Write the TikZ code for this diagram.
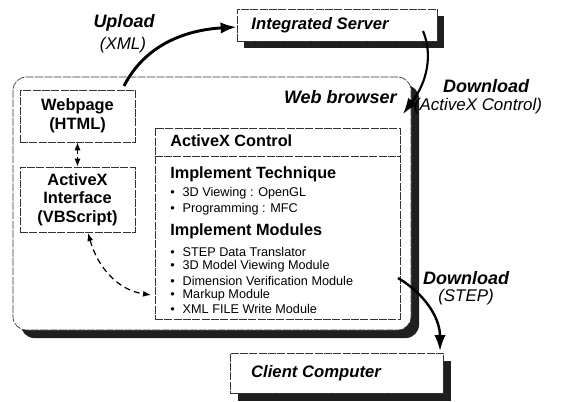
\documentclass[tikz,border=0pt]{standalone}
\usepackage{fontspec}
\setmainfont{Liberation Sans}
\usetikzlibrary{arrows.meta,shadows}

\tikzset{
  boxline/.style={draw=black!80, line width=0.5pt, dash pattern=on 6pt off 1pt},
  frame/.style={boxline, fill=white, inner sep=0pt},
  shadowed/.style={drop shadow={shadow xshift=#1, shadow yshift=-#1, opacity=1, fill=black!88}},
  bigital/.style={font=\fontsize{13.5}{15}\selectfont\bfseries\itshape, inner sep=0pt},
  hostital/.style={font=\fontsize{12.5}{14}\selectfont\bfseries\itshape, inner sep=0pt},
  parital/.style={font=\fontsize{12.7}{14}\selectfont\itshape, inner sep=0pt},
  boxbold/.style={font=\fontsize{12.3}{14}\selectfont\bfseries, align=center},
  heading/.style={anchor=west, inner sep=0pt, font=\fontsize{12.2}{14}\selectfont\bfseries},
  item/.style={anchor=west, inner sep=0pt, font=\fontsize{9.5}{11}\selectfont},
  thickarrow/.style={line width=#1, -{Latex[length=12pt,width=8.5pt]}},
  dasharrow/.style={line width=0.9pt, dash pattern=on 4.5pt off 3pt,
    {Latex[length=6pt,width=4.5pt]}-{Latex[length=6pt,width=4.5pt]}}
}

\begin{document}
\begin{tikzpicture}[x=0.75pt,y=-0.75pt]
\useasboundingbox (0,0) rectangle (566,401);

% hosts
\node[frame, shadowed=5.25pt, minimum width=150pt, minimum height=24pt] (server) at (337,25) {};
\node[hostital] (servertxt) at (320,25) {Integrated Server};

\node[frame, shadowed=6pt, minimum width=159.75pt, minimum height=30pt] (client) at (336.5,373) {};
\node[hostital] (clienttxt) at (316,373) {Client Computer};

% web browser frame
\node[frame, shadowed=6pt, rounded corners=10pt, minimum width=298.5pt, minimum height=189.75pt] (browser) at (212,203.5) {};
\node[bigital, anchor=east] (browsertxt) at (397,97) {Web browser};

% webpage and scripting interface
\node[frame, boxbold, minimum width=86.25pt, minimum height=39pt] (webpage) at (77.5,116) {Webpage\\(HTML)};
\node[frame, boxbold, minimum width=86.25pt, minimum height=48.75pt] (iface) at (77.5,199.5) {ActiveX\\Interface\\(VBScript)};

% ActiveX control panel
\node[frame, minimum width=183.75pt, minimum height=143.25pt] (ctrl) at (277.5,223.5) {};
\path (ctrl.north west) ++(0,29) coordinate (hdl);
\draw[boxline] (hdl) -- (hdl -| ctrl.east);
\node[heading] (ctrlhead) at (170,141) {ActiveX Control};

\node[heading] (tech) at (170,174) {Implement Technique};
\node[item] (t1) at (170,193) {\textbullet\hspace{6pt}3D Viewing : OpenGL};
\node[item] (t2) at (170,209) {\textbullet\hspace{6pt}Programming : MFC};

\node[heading] (mods) at (170,231) {Implement Modules};
\node[item] (m1) at (170,252) {\textbullet\hspace{6pt}STEP Data Translator};
\node[item] (m2) at (170,266.5) {\textbullet\hspace{6pt}3D Model Viewing Module};
\node[item] (m3) at (170,281) {\textbullet\hspace{6pt}Dimension Verification Module};
\node[item] (m4) at (170,295) {\textbullet\hspace{6pt}Markup Module};
\node[item] (m5) at (170,309) {\textbullet\hspace{6pt}XML FILE Write Module};

% transfer labels
\node[bigital] (uplabel) at (124,23) {Upload};
\node[parital] (upsub) at (123,45) {(XML)};
\node[bigital] (dl1label) at (486,86) {Download};
\node[parital] (dl1sub) at (478,106) {(ActiveX Control)};
\node[bigital] (dl2label) at (466,278) {Download};
\node[parital] (dl2sub) at (466,297) {(STEP)};

% free ends of the transfer arrows
\coordinate (upstart) at (124,86);
\coordinate (dl1start) at (423,31);
\coordinate (dl1end) at (403,114);
\coordinate (dl2start) at (398,278);
\coordinate (dl2end) at (440,351);
\coordinate (callstart) at (88,233);
\coordinate (callend) at (151,295);

% transfers
\draw[thickarrow=2.2pt] (upstart) .. controls (145,45) and (185,30) .. ([yshift=-1.5pt]server.west);
\draw[thickarrow=1.6pt] (dl1start) .. controls (433,55) and (427,82) .. (dl1end);
\draw[thickarrow=1.8pt] (dl2start) .. controls (425,294) and (440,318) .. (dl2end);

% local links
\draw[dasharrow, line width=0.7pt, dash pattern=on 3pt off 2pt] (webpage.south) -- (iface.north);
\draw[dasharrow] (callstart) .. controls (98,268) and (118,290) .. (callend);
\end{tikzpicture}
\end{document}
